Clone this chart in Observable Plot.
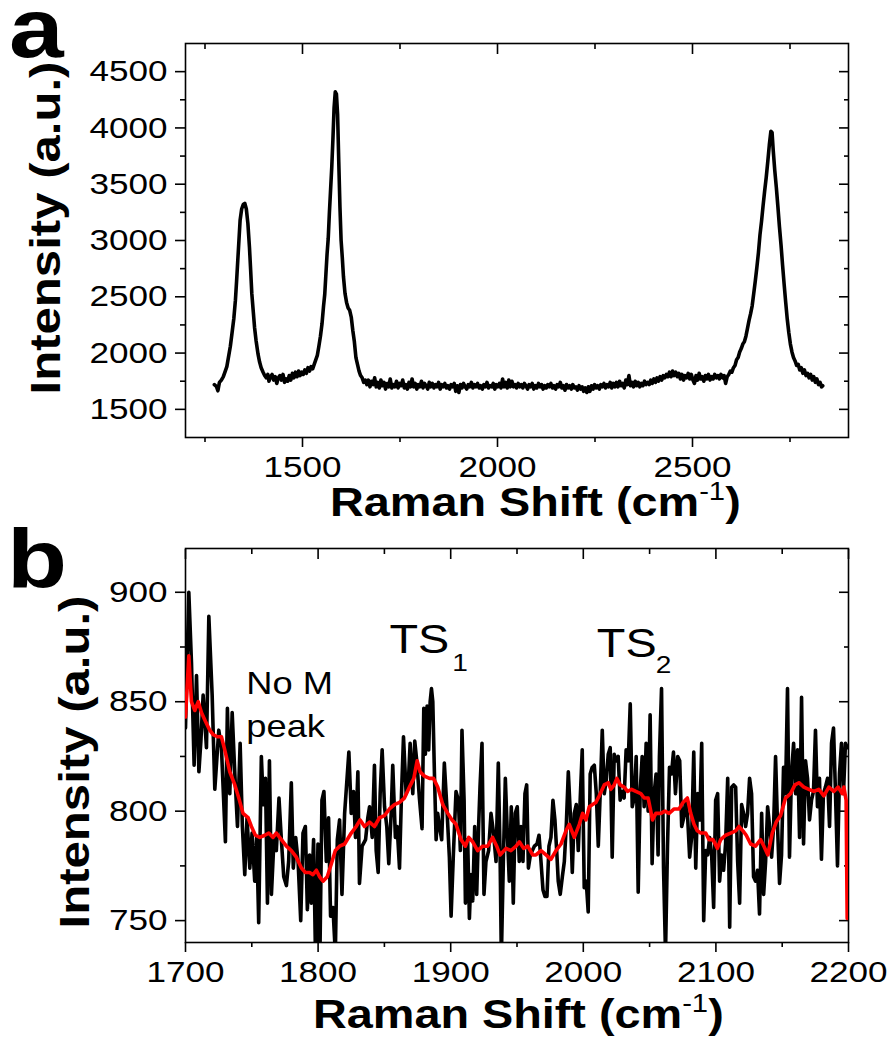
<!DOCTYPE html>
<html><head><meta charset="utf-8">
<script src="https://cdn.jsdelivr.net/npm/d3@7"></script>
<script src="https://cdn.jsdelivr.net/npm/@observablehq/plot@0.6"></script>
<style>
body{margin:0;background:#fff;}
#chart svg{display:block;}
</style></head><body><div id="chart"></div>
<script>
// ---------- Panel a: full Raman spectrum ----------
const shiftA = [
1274,1279,1283,1287,1292,1297,1302,1306,1310,1315,
1319,1324,1328,1331,1334,1337,1340,1344,1348,1352,
1356,1360,1364,1367,1370,1374,1377,1381,1386,1390,
1394,1399,1403,1407,1411,1414,1418,1422,1426,1430,
1434,1438,1442,1446,1450,1454,1458,1462,1466,1470,
1474,1478,1482,1486,1490,1494,1498,1502,1506,1510,
1514,1518,1522,1526,1530,1534,1538,1542,1546,1550,
1554,1557,1560,1563,1566,1569,1572,1575,1578,1581,
1584,1587,1590,1593,1596,1599,1602,1605,1609,1613,
1617,1621,1625,1629,1633,1637,1641,1645,1649,1653,
1657,1661,1665,1669,1673,1677,1681,1685,1689,1693,
1697,1701,1705,1709,1713,1717,1721,1725,1729,1733,
1737,1741,1745,1749,1753,1757,1761,1765,1769,1773,
1777,1781,1785,1789,1793,1797,1801,1805,1809,1813,
1817,1821,1825,1829,1833,1837,1841,1845,1849,1853,
1857,1861,1865,1869,1873,1877,1881,1885,1889,1893,
1897,1901,1905,1909,1913,1917,1921,1925,1929,1933,
1937,1941,1945,1949,1953,1957,1961,1965,1969,1973,
1977,1981,1985,1989,1993,1997,2001,2005,2009,2013,
2017,2021,2025,2029,2033,2037,2041,2045,2049,2053,
2057,2061,2065,2069,2073,2077,2081,2085,2089,2093,
2097,2101,2105,2109,2113,2117,2121,2125,2129,2133,
2137,2141,2145,2149,2153,2157,2161,2165,2169,2173,
2177,2181,2185,2189,2193,2197,2201,2205,2209,2213,
2217,2221,2225,2229,2233,2237,2241,2245,2249,2253,
2257,2261,2265,2269,2273,2277,2281,2285,2289,2293,
2297,2301,2305,2309,2313,2317,2321,2325,2329,2333,
2337,2341,2345,2349,2353,2357,2361,2365,2369,2373,
2377,2381,2385,2389,2393,2397,2401,2405,2409,2413,
2417,2421,2425,2429,2433,2437,2441,2445,2449,2453,
2457,2461,2465,2469,2473,2477,2481,2485,2489,2493,
2497,2501,2505,2509,2513,2517,2521,2525,2529,2533,
2537,2541,2545,2549,2553,2557,2561,2565,2569,2573,
2577,2581,2585,2589,2593,2597,
2601,2605,2609,2613,2617,2621,2625,2629,2633,2637,
2641,2645,2649,2653,2657,2661,2665,2669,2673,2677,
2681,2685,2689,2693,2697,2701,2704,2707,2711,2715,
2719,2723,2727,2731,2735,2739,2743,2747,2751,2755,
2759,2763,2767,2771,2775,2779,2783,2787,2791,2795,
2799,2803,2807,2811,2815,2819,2823,2827,2831,2834];
const intensityA = [
1720,1705,1665,1740,1760,1790,1840,1880,1960,2060,
2170,2310,2470,2640,2820,3000,3180,3280,3320,3330,
3280,3150,2940,2740,2530,2360,2230,2110,1990,1920,
1870,1830,1800,1780,1810,1750,1790,1810,1760,1790,
1730,1780,1800,1760,1810,1740,1770,1750,1800,1760,
1820,1780,1830,1790,1840,1800,1830,1810,1850,1820,
1870,1840,1880,1860,1900,1940,1980,2060,2150,2260,
2420,2520,2700,2880,3020,3250,3450,3650,3900,4180,
4320,4300,4120,3700,3300,3000,2850,2680,2530,2450,
2400,2380,2320,2200,2100,1960,1900,1840,1800,1780,
1740,1760,1720,1760,1700,1750,1720,1780,1700,1740,
1690,1760,1710,1740,1680,1730,1700,1770,1690,1720,
1700,1750,1690,1730,1710,1760,1690,1720,1680,1740,
1700,1770,1700,1730,1680,1720,1700,1750,1690,1730,
1710,1680,1740,1700,1730,1690,1720,1700,1740,1680,
1720,1700,1730,1690,1710,1680,1720,1700,1730,1660,
1710,1650,1720,1690,1730,1700,1680,1720,1700,1740,
1690,1720,1700,1730,1690,1710,1680,1720,1700,1740,
1690,1710,1700,1730,1680,1720,1700,1730,1690,1770,
1700,1740,1690,1760,1700,1750,1700,1720,1690,1730,
1700,1720,1690,1730,1710,1680,1720,1700,1730,1680,
1710,1690,1730,1700,1720,1680,1710,1690,1720,1700,
1730,1690,1710,1680,1720,1700,1740,1690,1710,1670,
1720,1690,1710,1680,1720,1690,1700,1670,1710,1680,
1700,1660,1690,1650,1700,1660,1710,1680,1720,1690,
1710,1680,1720,1700,1730,1690,1720,1700,1740,1690,
1730,1700,1740,1700,1750,1710,1730,1690,1760,1720,
1800,1710,1740,1700,1750,1710,1740,1700,1730,1710,
1750,1720,1740,1720,1760,1730,1770,1740,1780,1750,
1790,1760,1800,1780,1810,1790,1830,1790,1840,1800,
1830,1790,1820,1770,1810,1760,1800,1780,1820,1770,
1810,1760,1730,1800,1760,1820,1770,1790,1750,1800,
1770,1810,1760,1790,1770,1810,1780,1800,1770,1810,
1780,1800,1730,1790,1810,1840,
1830,1870,1890,1940,1960,2010,2040,2080,2100,2150,
2220,2290,2350,2420,2530,2640,2760,2890,3050,3170,
3310,3440,3560,3700,3850,3970,3960,3800,3620,3470,
3300,3120,2960,2780,2610,2450,2300,2180,2080,2010,
1960,1930,1890,1900,1850,1870,1820,1850,1800,1820,
1780,1810,1760,1790,1740,1770,1720,1740,1700,1710];

const majorXA = [1500, 2000, 2500];
const minorXA = [1250, 1750, 2250, 2750];
const majorYA = [1500, 2000, 2500, 3000, 3500, 4000, 4500];
const minorYA = [1750, 2250, 2750, 3250, 3750, 4250];

// ---------- Panel b: zoom 1700-2200 ----------
const shiftB = [
1700.0,1702.5,1704.5,1706.5,1708.3,1710.1,1711.6,1713.3,1715.8,1717.6,
1720.1,1722.1,1725.1,1727.1,1730.1,1731.6,1733.4,1735.2,1737.2,1739.2,
1741.2,1742.9,1744.7,1746.4,1748.5,1750.2,1752.2,1753.7,1755.2,1757.2,
1758.7,1760.3,1761.8,1763.3,1764.8,1766.8,1768.5,1770.5,1772.3,1774.1,
1776.1,1777.8,1779.8,1781.3,1783.1,1784.9,1786.9,1788.6,1790.4,1791.9,
1793.6,1794.9,1796.6,1798.2,1799.9,1801.2,1802.9,1804.4,1806.2,1807.9,
1809.4,1811.2,1813.0,1814.5,1816.2,1818.0,1820.0,1823.2,1825.0,1826.7,
1828.2,1830.0,1831.2,1833.2,1835.8,1837.5,1838.8,1840.8,1842.5,1843.8,
1845.3,1846.8,1848.3,1850.1,1851.8,1853.3,1855.1,1856.3,1858.3,1859.6,
1861.4,1862.9,1864.4,1866.4,1867.9,1869.4,1871.4,1872.9,1874.4,1876.4,
1878.4,1879.7,1880.9,1882.2,1883.4,1884.5,1885.5,1886.5,1887.7,1889.0,
1890.2,1891.5,1893.2,1895.2,1897.0,1899.0,1900.3,1902.0,1904.0,1905.8,
1907.3,1908.5,1910.1,1911.1,1912.8,1914.1,1915.3,1916.6,1918.1,1919.6,
1921.1,1922.1,1923.6,1925.1,1926.6,1928.6,1930.4,1932.1,1934.2,1935.9,
1937.2,1938.2,1939.7,1941.2,1942.7,1944.2,1945.7,1947.2,1948.7,1950.2,
1951.7,1953.0,1954.5,1956.0,1957.3,1958.6,1960.1,1961.6,1963.1,1965.1,
1966.6,1968.1,1969.6,1971.1,1972.6,1974.1,1975.6,1977.1,1978.6,1980.1,
1981.1,1982.6,1984.2,1985.7,1987.2,1988.7,1990.2,1991.7,1993.2,1994.7,
1996.2,1997.7,1999.2,2000.7,2002.2,2003.7,2005.2,2006.7,2008.3,2009.8,
2011.3,2012.8,2014.3,2015.8,2017.3,2018.8,2020.3,2021.8,2023.3,2024.8,
2026.3,2027.8,2029.3,2030.8,2032.3,2033.9,2035.4,2036.9,2038.4,2039.9,
2041.4,2042.9,2044.4,2045.9,2047.4,2048.9,2050.4,2051.9,2053.4,2054.9,
2056.4,2057.4,2059.0,2060.5,2062.0,2063.5,2065.0,2066.5,2068.0,2069.5,
2071.2,2072.7,2074.2,2075.7,2077.2,2078.7,2080.2,2081.7,2083.3,2084.8,
2086.3,2087.8,2089.3,2090.8,2092.3,2093.8,2095.3,2096.8,2098.3,2099.8,
2101.3,2102.8,2104.3,2105.8,2107.3,2108.9,2110.4,2111.9,2113.4,2114.9,
2116.4,2117.9,2119.4,2120.9,2122.4,2123.9,2125.4,2126.9,2128.4,2129.9,
2131.4,2132.9,2134.5,2136.0,2137.5,2139.0,2140.5,2142.0,2143.5,2145.0,
2146.5,2148.0,2149.5,2151.0,2152.5,2154.0,2155.5,2157.0,2158.6,2160.1,
2161.6,2163.1,2164.6,2166.1,2167.6,2169.1,2170.6,2172.1,2173.6,2175.1,
2176.6,2178.1,2179.6,2181.1,2182.6,2184.2,2185.7,2187.2,2188.7,2190.2,
2191.7,2193.2,2194.7,2196.2,2197.7,2199.2];
const intensityB = [
838,900,868,821,862,818,832,853,829,889,
853,810,837,829,786,847,808,845,817,793,
831,793,771,797,774,790,768,788,749,825,
803,815,758,823,762,788,782,806,787,770,
766,777,813,774,788,777,750,790,793,755,
780,758,787,728,785,726,805,809,777,797,
752,756,735,787,796,762,799,827,799,809,
788,818,767,784,787,797,802,788,821,782,
772,808,828,802,793,776,799,821,788,793,
774,808,834,808,811,831,808,832,823,806,
792,847,826,848,828,850,856,850,818,787,
799,793,787,822,803,779,752,780,809,805,
782,837,805,758,787,751,771,759,793,762,
794,811,831,762,777,782,799,791,777,822,
782,733,777,815,790,768,802,758,799,802,
777,793,777,808,812,774,780,782,784,785,
789,777,764,761,761,784,788,805,796,780,
768,762,770,777,794,818,799,772,799,803,
782,806,828,765,768,754,817,820,821,808,
784,809,837,808,814,826,829,779,826,823,
825,805,809,806,828,823,849,802,806,825,
763,809,825,802,831,800,844,776,808,817,
780,825,856,774,735,784,820,817,827,808,
825,823,793,797,805,797,779,788,827,774,
808,796,831,750,782,780,788,780,756,805,
808,768,780,773,785,815,747,811,812,811,
777,758,803,799,793,799,815,808,770,768,
773,753,799,762,777,802,793,779,793,825,
793,767,780,820,808,856,779,817,831,808,
828,788,852,785,823,815,796,805,809,837,
802,815,778,808,811,815,793,831,838,808,
775,817,831,808,831,829];

const shiftSmooth = [
1700.0,1702.5,1704.5,1707.0,1709.6,1712.1,1715.1,1718.3,1720.8,1724.1,
1727.1,1729.6,1733.4,1737.2,1740.2,1743.4,1747.2,1749.7,1752.7,1756.0,
1759.8,1762.8,1766.0,1768.5,1772.3,1776.1,1779.8,1783.6,1787.4,1790.4,
1793.6,1796.1,1798.7,1801.2,1803.7,1806.9,1810.0,1813.0,1816.2,1820.0,
1825.0,1828.7,1831.7,1835.0,1838.8,1842.5,1846.3,1850.1,1853.8,1857.6,
1861.4,1865.1,1868.9,1872.2,1874.7,1876.9,1880.2,1884.0,1887.0,1890.2,
1894.0,1897.8,1901.0,1904.0,1907.8,1911.1,1913.6,1916.6,1920.3,1924.1,
1927.9,1931.6,1934.7,1937.2,1941.7,1945.4,1949.3,1951.8,1955.0,1958.1,
1961.8,1964.3,1968.1,1971.9,1975.6,1979.4,1983.2,1986.9,1989.4,1993.2,
1997.0,1999.5,2002.0,2004.5,2007.0,2009.5,2012.0,2015.8,2018.8,2020.8,
2023.3,2025.3,2027.8,2030.8,2033.4,2036.4,2039.6,2043.4,2045.9,2048.9,
2052.2,2054.7,2058.5,2061.5,2064.7,2068.5,2072.2,2075.2,2078.5,2081.0,
2083.5,2086.0,2088.5,2092.3,2094.8,2097.8,2101.1,2103.6,2107.3,2111.1,
2114.9,2117.4,2120.4,2122.9,2126.2,2129.9,2133.7,2136.2,2139.2,2142.5,
2145.5,2148.8,2152.5,2156.3,2159.6,2162.6,2166.3,2170.1,2173.9,2177.6,
2181.4,2185.2,2188.9,2192.2,2195.2,2196.5,2198.2,2199.0];
const intensitySmooth = [
843,871,850,846,850,845,841,837,835,834,
834,828,818,812,806,799,797,793,789,788,
789,790,788,790,787,784,782,779,774,772,
772,771,773,770,768,770,776,782,784,785,
790,793,796,793,795,793,797,798,801,803,
804,806,811,815,823,818,816,815,815,811,
803,799,796,794,787,784,788,786,782,784,
784,788,784,780,783,782,784,786,783,784,
780,780,782,780,778,782,785,791,794,788,
794,799,796,802,803,804,807,812,813,810,
812,815,812,811,809,810,809,808,806,806,
796,799,799,800,799,801,801,804,806,799,
794,791,790,790,787,787,783,787,789,790,
791,793,791,789,785,784,787,784,780,790,
795,798,806,808,812,813,811,810,809,810,
807,811,809,811,808,811,805,751];

const majorXB = [1700, 1800, 1900, 2000, 2100, 2200];
const minorXB = [1750, 1850, 1950, 2050, 2150];
const majorYB = [750, 800, 850, 900];
const minorYB = [775, 825, 875];

// annotation texts (panel b)
const noteText = ["No M", "peak", "TS", "1", "TS", "2"];
const noteShift = [1745.9, 1745.9, 1853.8, 1901.1, 2010.2, 2054.7];
const noteIntensity = [853.7, 833.8, 872.1, 864.2, 870.3, 862.9];
const noteSize = [31, 31, 40, 24, 40, 24];

// ---------- rendering ----------
const FONT = "'Liberation Sans', Arial, Helvetica, sans-serif";
const S = 1.17;   // horizontal glyph stretch of the original typeface

function stretchTexts(svg, s) {
  svg.querySelectorAll("text").forEach(t => {
    const x = parseFloat(t.getAttribute("x")) || 0;
    const tr = t.getAttribute("transform") || "";
    t.setAttribute("transform", `${tr} translate(${x},0) scale(${s},1) translate(${-x},0)`);
  });
}

function frameAxes(majX, minX, majY, minY, fmt) {
  const sw = 1.6;
  return [
    Plot.frame({stroke: "#000", strokeWidth: sw}),
    Plot.axisX(majX, {anchor: "bottom", tickSize: 10, tickPadding: 8, tickFormat: fmt, label: null, strokeWidth: sw, fontSize: 30}),
    Plot.axisX(minX, {anchor: "bottom", tickSize: 5, tickFormat: () => "", label: null, strokeWidth: sw}),
    Plot.axisX(majX, {anchor: "top", tickSize: -10, tickFormat: () => "", label: null, strokeWidth: sw}),
    Plot.axisX(minX, {anchor: "top", tickSize: -5, tickFormat: () => "", label: null, strokeWidth: sw}),
    Plot.axisY(majY, {anchor: "left", tickSize: 10, tickPadding: 8, tickFormat: fmt, label: null, strokeWidth: sw, fontSize: 30}),
    Plot.axisY(minY, {anchor: "left", tickSize: 5, tickFormat: () => "", label: null, strokeWidth: sw}),
    Plot.axisY(majY, {anchor: "right", tickSize: -10, tickFormat: () => "", label: null, strokeWidth: sw}),
    Plot.axisY(minY, {anchor: "right", tickSize: -5, tickFormat: () => "", label: null, strokeWidth: sw})
  ];
}

function addYTitle(svg, cx, cy, size) {
  d3.select(svg).append("text")
    .attr("transform", `translate(${cx},${cy}) rotate(-90) scale(${S},1)`)
    .attr("text-anchor", "middle").attr("font-family", FONT)
    .attr("font-size", size).attr("font-weight", "bold").attr("fill", "#000")
    .text("Intensity (a.u.)");
}
function addXTitle(svg, x, y, size) {
  const t = d3.select(svg).append("text")
    .attr("transform", `translate(${x},${y}) scale(${S},1)`)
    .attr("text-anchor", "start").attr("font-family", FONT)
    .attr("font-size", size).attr("font-weight", "bold").attr("fill", "#000");
  t.append("tspan").text("Raman Shift (cm");
  t.append("tspan").attr("dy", -16).attr("font-size", 25).attr("font-weight", "normal").text("-1");
  t.append("tspan").attr("dy", 16).text(")");
}
function addPanelLetter(svg, x, y, letter) {
  d3.select(svg).append("text")
    .attr("transform", `translate(${x},${y}) scale(${S},1)`)
    .attr("text-anchor", "start")
    .attr("font-family", FONT).attr("font-size", 84).attr("font-weight", "bold").attr("fill", "#000")
    .text(letter);
}

const fmt = d => String(d);
const style = {fontFamily: FONT, fontSize: "30px", color: "#000", background: "#fff", overflow: "visible"};

const dataA = shiftA.map((x, i) => ({shift: x, intensity: intensityA[i]}));
const plotA = Plot.plot({
  width: 893, height: 520,
  marginLeft: 185, marginRight: 45, marginTop: 43, marginBottom: 83,
  style,
  x: {domain: [1200, 2900]},
  y: {domain: [1250, 4750]},
  marks: [
    ...frameAxes(majorXA, minorXA, majorYA, minorYA, fmt),
    Plot.line(dataA, {x: "shift", y: "intensity", stroke: "#000", strokeWidth: 3.6, clip: true})
  ]
});

const dataB = shiftB.map((x, i) => ({shift: x, intensity: intensityB[i]}));
const dataSmooth = shiftSmooth.map((x, i) => ({shift: x, intensity: intensitySmooth[i]}));
const notes = noteText.map((t, i) => ({text: t, shift: noteShift[i], intensity: noteIntensity[i], size: noteSize[i]}));
const plotB = Plot.plot({
  width: 893, height: 537,
  marginLeft: 185, marginRight: 45, marginTop: 28, marginBottom: 115,
  style,
  x: {domain: [1700, 2200]},
  y: {domain: [740, 920]},
  marks: [
    ...frameAxes(majorXB, minorXB, majorYB, minorYB, fmt),
    Plot.line(dataB, {x: "shift", y: "intensity", stroke: "#000", strokeWidth: 3.6, clip: true}),
    Plot.line(dataSmooth, {x: "shift", y: "intensity", stroke: "#ff0000", strokeWidth: 3.6, clip: true}),
    Plot.text(notes.filter(d => d.size === 31), {x: "shift", y: "intensity", text: "text", textAnchor: "start", lineAnchor: "bottom", fontSize: 31, fill: "#000"}),
    Plot.text(notes.filter(d => d.size === 40), {x: "shift", y: "intensity", text: "text", textAnchor: "start", lineAnchor: "bottom", fontSize: 40, fill: "#000"}),
    Plot.text(notes.filter(d => d.size === 24), {x: "shift", y: "intensity", text: "text", textAnchor: "start", lineAnchor: "bottom", fontSize: 24, fill: "#000"})
  ]
});

const chart = document.getElementById("chart");
chart.appendChild(plotA);
chart.appendChild(plotB);
stretchTexts(plotA, S);
stretchTexts(plotB, S);

addPanelLetter(plotA, 9, 57, "a");
addYTitle(plotA, 60, 228, 42);
addXTitle(plotA, 330, 516, 40);

addPanelLetter(plotB, 7, 68, "b");
addYTitle(plotB, 89, 242, 42);
addXTitle(plotB, 313, 508, 40);
</script></body></html>
